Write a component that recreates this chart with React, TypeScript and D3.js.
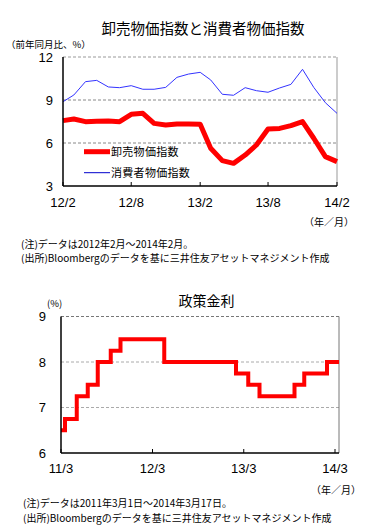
import React from "react";
import * as d3 from "d3";

// ---- Top chart data (monthly, 2012/2 - 2014/2) ----
const months: string[] = [
  "2012-02", "2012-03", "2012-04", "2012-05", "2012-06", "2012-07", "2012-08",
  "2012-09", "2012-10", "2012-11", "2012-12", "2013-01", "2013-02", "2013-03",
  "2013-04", "2013-05", "2013-06", "2013-07", "2013-08", "2013-09", "2013-10",
  "2013-11", "2013-12", "2014-01", "2014-02",
];
const wpi: number[] = [
  7.56, 7.67, 7.49, 7.51, 7.53, 7.49, 8.0, 8.07, 7.37, 7.26, 7.33, 7.33, 7.3,
  5.63, 4.77, 4.58, 5.16, 5.86, 6.98, 7.02, 7.21, 7.49, 6.33, 5.05, 4.7,
];
const cpi: number[] = [
  8.88, 9.35, 10.28, 10.37, 9.91, 9.86, 10.0, 9.75, 9.75, 9.88, 10.58, 10.81,
  10.93, 10.4, 9.4, 9.33, 9.86, 9.65, 9.54, 9.84, 10.09, 11.14, 9.88, 8.81, 8.07,
];
const topYTicks: number[] = [3, 6, 9, 12];
const topXTicks: string[] = ["2012-02", "2012-08", "2013-02", "2013-08", "2014-02"];
const topXTickLabels: string[] = ["12/2", "12/8", "13/2", "13/8", "14/2"];
const topTitle = "卸売物価指数と消費者物価指数";
const topYLabel = "（前年同月比、%）";
const seriesNames: string[] = ["卸売物価指数", "消費者物価指数"];
const topNotes: string[] = [
  "(注)データは2012年2月～2014年2月。",
  "(出所)Bloombergのデータを基に三井住友アセットマネジメント作成",
];

// ---- Bottom chart data (policy rate, step) ----
const rateDates: string[] = [
  "2011-03-01", "2011-03-17", "2011-05-03", "2011-06-16", "2011-07-26",
  "2011-09-16", "2011-10-25", "2012-04-17", "2013-01-29", "2013-03-19",
  "2013-05-03", "2013-09-20", "2013-10-29", "2014-01-28", "2014-03-17",
];
const rateValues: number[] = [
  6.5, 6.75, 7.25, 7.5, 8.0, 8.25, 8.5, 8.0, 7.75, 7.5, 7.25, 7.5, 7.75, 8.0, 8.0,
];
const botYTicks: number[] = [6, 7, 8, 9];
const botXTicks: string[] = ["2011-03-01", "2012-03-01", "2013-03-01", "2014-03-01"];
const botXTickLabels: string[] = ["11/3", "12/3", "13/3", "14/3"];
const botTitle = "政策金利";
const botNotes: string[] = [
  "(注)データは2011年3月1日～2014年3月17日。",
  "(出所)Bloombergのデータを基に三井住友アセットマネジメント作成",
];

const JP = "'Noto Sans CJK JP', 'Noto Sans', sans-serif";
const NUM = "'Liberation Sans', Arial, sans-serif";

const parseMonth = d3.timeParse("%Y-%m");
const parseDay = d3.timeParse("%Y-%m-%d");

export default function App() {
  // top chart scales
  const tL = 63, tR = 337, tT = 57, tB = 186;
  const xTop = d3
    .scaleTime()
    .domain([parseMonth(months[0])!, parseMonth(months[months.length - 1])!])
    .range([tL, tR]);
  const yTop = d3.scaleLinear().domain([3, 12]).range([tB, tT]);
  const lineTop = (vals: number[]) =>
    d3
      .line<number>()
      .x((_, i) => xTop(parseMonth(months[i])!))
      .y((v) => yTop(v))(vals) || "";

  // bottom chart scales
  const bL = 61, bR = 339, bT = 316.5, bB = 453;
  const xBot = d3
    .scaleTime()
    .domain([parseDay(rateDates[0])!, parseDay(rateDates[rateDates.length - 1])!])
    .range([bL, bR]);
  const yBot = d3.scaleLinear().domain([6, 9]).range([bB, bT]);
  const rateLine =
    d3
      .line<number>()
      .curve(d3.curveStepAfter)
      .x((_, i) => xBot(parseDay(rateDates[i])!))
      .y((v) => yBot(v))(rateValues) || "";

  return (
    <svg
      width={371}
      height={531}
      style={{ position: "absolute", left: 0, top: 0, background: "#fff" }}
    >
      {/* ===== TOP CHART ===== */}
      <text x={203} y={34} textAnchor="middle" fontFamily={JP} fontSize={14.5} fill="#000">
        {topTitle}
      </text>
      <text x={6} y={47.5} fontFamily={JP} fontSize={9.5} fill="#000">
        {topYLabel}
      </text>
      {/* gridlines */}
      {topYTicks
        .filter((t) => t !== 3)
        .map((t) => (
          <line
            key={"tg" + t}
            x1={tL}
            x2={tR}
            y1={yTop(t)}
            y2={yTop(t)}
            stroke={t === 12 ? "#999" : "#888"}
            strokeWidth={1}
            strokeDasharray="3,2"
          />
        ))}
      <line x1={tR} x2={tR} y1={tT} y2={tB} stroke="#999" strokeWidth={1} />
      {/* series */}
      <path d={lineTop(cpi)} fill="none" stroke="#3333ff" strokeWidth={1} />
      <path d={lineTop(wpi)} fill="none" stroke="#ff0000" strokeWidth={5} strokeLinejoin="round" />
      {/* axes */}
      <line x1={tL} x2={tL} y1={tT} y2={tB} stroke="#000" strokeWidth={1.5} />
      <line x1={tL} x2={tR} y1={tB} y2={tB} stroke="#000" strokeWidth={1.5} />
      {topXTicks.map((m, i) => (
        <g key={"tx" + m}>
          <line
            x1={xTop(parseMonth(m)!)}
            x2={xTop(parseMonth(m)!)}
            y1={tB}
            y2={tB - 4}
            stroke="#000"
            strokeWidth={1}
          />
          <text
            x={xTop(parseMonth(m)!)}
            y={207}
            textAnchor="middle"
            fontFamily={NUM}
            fontSize={13}
            fill="#000"
          >
            {topXTickLabels[i]}
          </text>
        </g>
      ))}
      {topYTicks.map((t) => (
        <text
          key={"ty" + t}
          x={53}
          y={yTop(t) + 4.5}
          textAnchor="end"
          fontFamily={NUM}
          fontSize={13}
          fill="#000"
        >
          {t}
        </text>
      ))}
      <text x={304} y={226} fontFamily={JP} fontSize={10} fill="#000">
        （年／月）
      </text>
      {/* legend */}
      <line x1={84} x2={110} y1={151.7} y2={151.7} stroke="#ff0000" strokeWidth={5} />
      <text x={111} y={155.5} fontFamily={JP} fontSize={11} letterSpacing={0.3} fill="#000">
        {seriesNames[0]}
      </text>
      <line x1={84} x2={110} y1={172.7} y2={172.7} stroke="#0000cc" strokeWidth={1} />
      <text x={111} y={176.5} fontFamily={JP} fontSize={11} letterSpacing={0.3} fill="#000">
        {seriesNames[1]}
      </text>
      {topNotes.map((n, i) => (
        <text key={"tn" + i} x={21} y={247.5 + i * 14.5} fontFamily={JP} fontSize={10} fill="#000">
          {n}
        </text>
      ))}

      {/* ===== BOTTOM CHART ===== */}
      <text x={206.5} y={306} textAnchor="middle" fontFamily={JP} fontSize={14} fill="#000">
        {botTitle}
      </text>
      <text x={47} y={306.5} fontFamily={JP} fontSize={9.5} fill="#000">
        (%)
      </text>
      {botYTicks
        .filter((t) => t !== 6)
        .map((t) => (
          <line
            key={"bg" + t}
            x1={bL}
            x2={bR}
            y1={yBot(t)}
            y2={yBot(t)}
            stroke={t === 9 ? "#777" : "#aaa"}
            strokeWidth={1}
            strokeDasharray="3,2"
          />
        ))}
      <line x1={bR} x2={bR} y1={bT} y2={bB} stroke="#777" strokeWidth={1} />
      <path d={rateLine} fill="none" stroke="#ff0000" strokeWidth={4} />
      <line x1={bL} x2={bL} y1={bT} y2={bB} stroke="#000" strokeWidth={1.5} />
      <line x1={bL} x2={bR} y1={bB} y2={bB} stroke="#000" strokeWidth={1.5} />
      {botXTicks.map((d, i) => (
        <g key={"bx" + d}>
          <line
            x1={xBot(parseDay(d)!)}
            x2={xBot(parseDay(d)!)}
            y1={bB}
            y2={bB - 4}
            stroke="#000"
            strokeWidth={1}
          />
          <text
            x={xBot(parseDay(d)!)}
            y={472.5}
            textAnchor="middle"
            fontFamily={NUM}
            fontSize={13}
            fill="#000"
          >
            {botXTickLabels[i]}
          </text>
        </g>
      ))}
      {botYTicks.map((t) => (
        <text
          key={"by" + t}
          x={46}
          y={yBot(t) + 4.5}
          textAnchor="end"
          fontFamily={NUM}
          fontSize={13}
          fill="#000"
        >
          {t}
        </text>
      ))}
      <text x={311} y={494} fontFamily={JP} fontSize={10} fill="#000">
        （年／月）
      </text>
      {botNotes.map((n, i) => (
        <text key={"bn" + i} x={23} y={507} dy={i * 14.5} fontFamily={JP} fontSize={10} fill="#000">
          {n}
        </text>
      ))}
    </svg>
  );
}
